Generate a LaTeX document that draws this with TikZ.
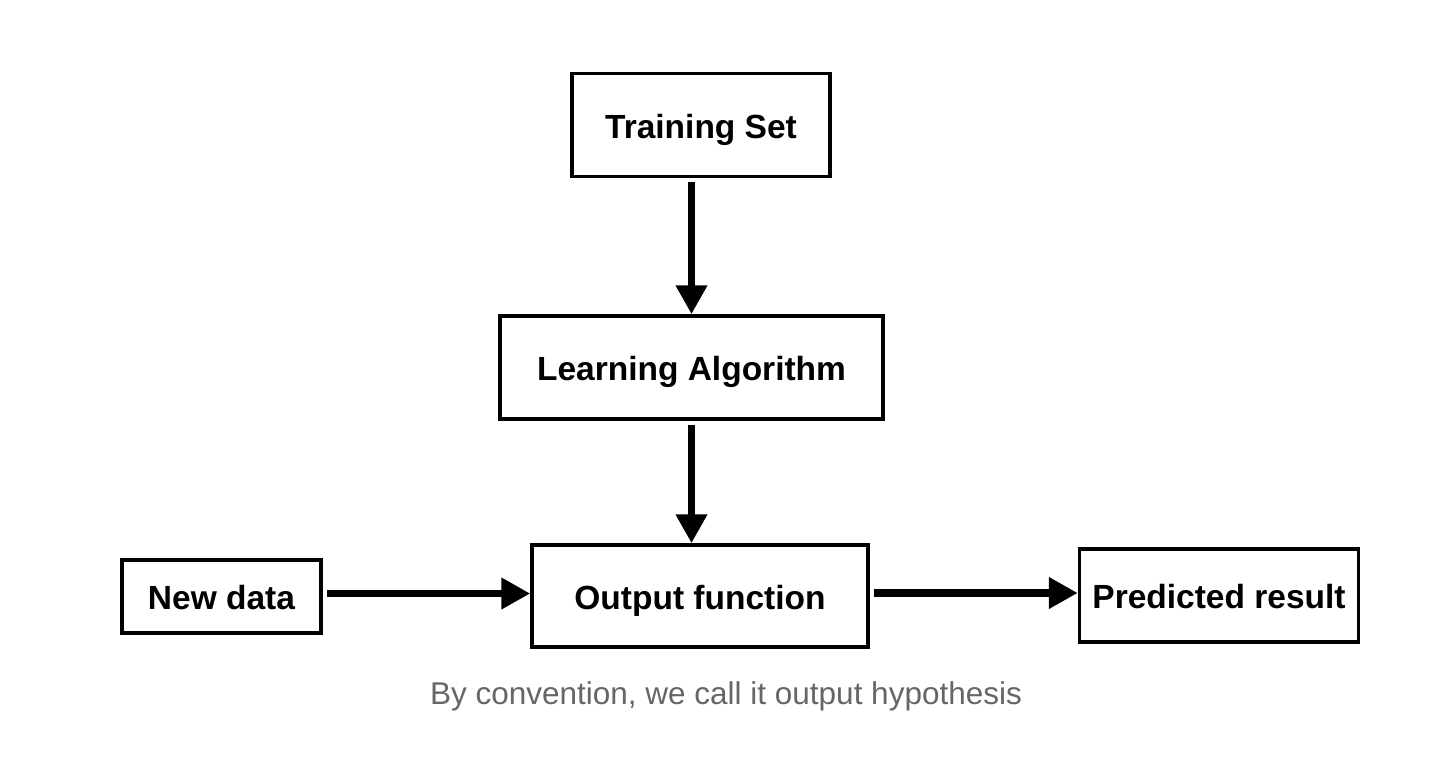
\documentclass[tikz,border=0pt]{standalone}
\usepackage{fontspec}
\setmainfont{Liberation Sans}
\usetikzlibrary{arrows.meta}
\definecolor{capgray}{HTML}{666666}
\tikzset{
  box/.style={draw=black, line width=3.5pt, rectangle, inner sep=0pt, align=center,
    text height=31.5pt, text depth=5pt,
    font=\fontsize{33.5}{38}\selectfont\bfseries},
  flow/.style={line width=7.5pt, -{Triangle[length=29pt,width=30pt]}, shorten <=4pt},
}
\begin{document}
\begin{tikzpicture}[x=1pt,y=-1pt]
\useasboundingbox (0,0) rectangle (1438,770);
\fill[white] (0,0) rectangle (1438,770);
\node[box, minimum width=258pt, minimum height=103pt] (train) at (701,125) {Training Set};
\node[box, minimum width=383pt, minimum height=103pt] (learn) at (691.5,367.5) {Learning Algorithm};
\node[box, minimum width=336pt, minimum height=102pt] (out) at (700,596) {Output function};
\node[box, minimum width=199pt, minimum height=73pt] (new) at (221.5,596.5) {New data};
\node[box, minimum width=279pt, minimum height=93pt] (pred) at (1219,595.5) {Predicted result};
\node[text=capgray, font=\fontsize{31.5}{36}\selectfont, anchor=base] (cap) at (726,704) {By convention, we call it output hypothesis};
\draw[flow] (train.south -| learn.north) -- (learn.north);
\draw[flow] (learn.south) -- (learn.south |- out.north);
\draw[flow] ([yshift=3pt]new.east) -- ([yshift=3pt]new.east -| out.west);
\draw[flow] ([yshift=3pt]out.east) -- ([yshift=3pt]out.east -| pred.west);
\end{tikzpicture}
\end{document}
